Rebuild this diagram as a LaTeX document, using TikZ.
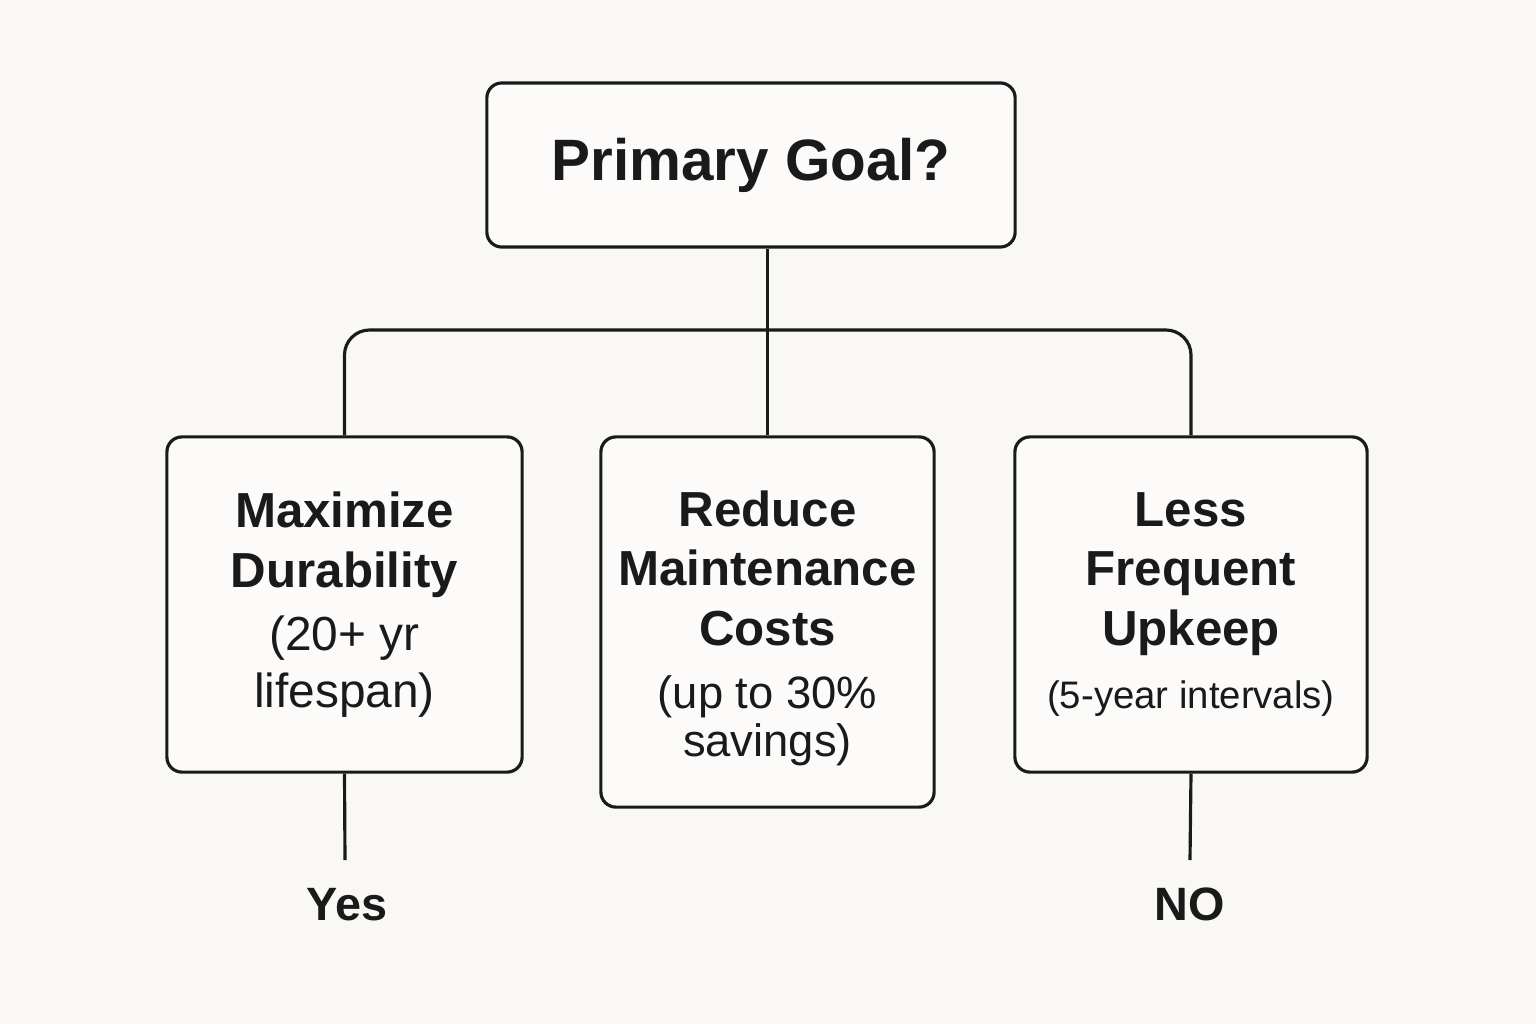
\documentclass[tikz,border=0pt]{standalone}
\usepackage{fontspec}
\setmainfont{Liberation Sans}
\definecolor{bg}{HTML}{FAF8F5}
\definecolor{boxfill}{HTML}{FCFBF9}
\definecolor{ink}{HTML}{1A1A1A}
\begin{document}
\begin{tikzpicture}[x=0.01cm,y=-0.01cm,
  box/.style={draw=ink, line width=0.9pt, fill=boxfill, rounded corners=0.15cm,
    align=center, inner sep=0pt, text=ink,
    font=\bfseries\fontsize{14}{17}\selectfont},
  conn/.style={draw=ink, line width=0.9pt},
  lbl/.style={text=ink, font=\bfseries\fontsize{13.3}{16}\selectfont, inner sep=0pt}]
\useasboundingbox[fill=bg] (0,0) rectangle (1536,1024);

\node[box, minimum width=5.28cm, minimum height=1.64cm,
  font=\bfseries\fontsize{16.6}{20}\selectfont] (top) at (751,165) {Primary Goal?};

\node[box, minimum width=3.55cm, minimum height=3.35cm] (left) at (344.5,604.5)
  {Maximize\\Durability\\[1pt]{\mdseries\fontsize{13.6}{17}\selectfont (20+ yr}\\[-1pt]{\mdseries\fontsize{13.6}{17}\selectfont lifespan)}};

\node[box, minimum width=3.33cm, minimum height=3.70cm] (mid) at (767.5,622)
  {\rule{0pt}{13.6pt}Reduce\\Maintenance\\Costs\\[1pt]{\mdseries\fontsize{12.9}{15}\selectfont (up to 30\%}\\[-3.5pt]{\mdseries\fontsize{12.9}{15}\selectfont savings)}};

\node[box, minimum width=3.52cm, minimum height=3.35cm] (right) at (1191,604.5)
  {Less\\Frequent\\Upkeep\\[1pt]{\mdseries\fontsize{10.9}{13}\selectfont (5-year intervals)}};

\coordinate (bus) at (767,330);
\coordinate (yesend) at (345,860);
\coordinate (noend) at (1190,860);

\node[lbl, anchor=base] (yes) at (347,920) {Yes};
\node[lbl, anchor=base] (no) at (1190,920) {NO};

\draw[conn] (top.south -| mid.north) -- (mid.north);
\draw[conn, rounded corners=0.25cm] (left.north) |- (bus) -| (right.north);
\draw[conn] (left.south) -- (yesend);
\draw[conn] (right.south) -- (noend);
\end{tikzpicture}
\end{document}
